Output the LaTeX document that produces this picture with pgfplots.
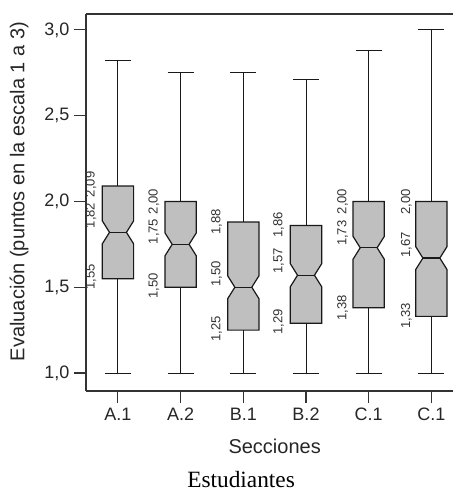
\documentclass[border=0pt]{standalone}
\usepackage{fontspec}
\setmainfont{Liberation Sans}
\newfontfamily\serifcap{Liberation Serif}
\usepackage{pgfplots}
\pgfplotsset{compat=1.18}
\usepgfplotslibrary{statistics}

% notched box: notch half-height in data units, inset as fraction of box width
\pgfplotsset{
    notched box/.style={
        boxplot/draw direction=y,
        boxplot/draw/box/.code={%
            \pgfmathsetmacro\nlo{\pgfplotsboxplotvalue{median}-0.067}%
            \pgfmathsetmacro\nhi{\pgfplotsboxplotvalue{median}+0.067}%
            \draw[/pgfplots/boxplot/every box/.try]
                (boxplot box cs:\pgfplotsboxplotvalue{lower quartile},0) --
                (boxplot box cs:\nlo,0) --
                (boxplot box cs:\pgfplotsboxplotvalue{median},0.23) --
                (boxplot box cs:\nhi,0) --
                (boxplot box cs:\pgfplotsboxplotvalue{upper quartile},0) --
                (boxplot box cs:\pgfplotsboxplotvalue{upper quartile},1) --
                (boxplot box cs:\nhi,1) --
                (boxplot box cs:\pgfplotsboxplotvalue{median},0.77) --
                (boxplot box cs:\nlo,1) --
                (boxplot box cs:\pgfplotsboxplotvalue{lower quartile},1) -- cycle;
        },
        boxplot/draw/median/.code={%
            \draw[/pgfplots/boxplot/every median/.try]
                (boxplot box cs:\pgfplotsboxplotvalue{median},0.23) --
                (boxplot box cs:\pgfplotsboxplotvalue{median},0.77);
        },
        boxplot/box extend=0.5,
        boxplot/whisker extend=0.414,
        boxplot/every box/.style={fill=gray!50, draw=black!90, line width=0.9pt},
        boxplot/every median/.style={draw=black!90, line width=0.9pt},
        boxplot/every whisker/.style={draw=black!90, line width=0.7pt},
    },
}

\begin{document}
\begin{tikzpicture}
    \begin{axis}[
            scale only axis,
            width=283pt, height=282.75pt,
            xmin=0.49, xmax=6.51,
            ymin=0.895, ymax=3.093,
            axis x line=box, axis y line=left,
            axis line style={-, line width=1pt, black!80},
            xtick pos=lower, ytick pos=left,
            tick align=outside,
            major tick length=9pt,
            tick style={line width=0.8pt, black!80},
            xtick={1,2,3,4,5,6},
            xticklabels={A.1,A.2,B.1,B.2,C.1,C.1},
            ytick={1,1.5,2,2.5,3},
            yticklabel style={/pgf/number format/.cd, fixed, fixed zerofill, precision=1, use comma, assume math mode=true},
            ticklabel style={font=\fontsize{13.5}{16}\selectfont, black!85},
            xlabel={Secciones},
            ylabel={Evaluación (puntos en la escala 1 a 3)},
            label style={font=\fontsize{15}{18}\selectfont, black!85},
            xlabel style={at={(axis description cs:0.5,-0.167)}, anchor=base},
            ylabel style={at={(axis description cs:-0.1775,0.529)}, anchor=center, rotate=0},
            clip=false,
        ]
        % min, Q1, median, Q3, max per section
        \addplot[notched box, boxplot prepared={draw position=1, lower whisker=1.00, lower quartile=1.55, median=1.82, upper quartile=2.09, upper whisker=2.82}] coordinates {};
        \addplot[notched box, boxplot prepared={draw position=2, lower whisker=1.00, lower quartile=1.50, median=1.75, upper quartile=2.00, upper whisker=2.75}] coordinates {};
        \addplot[notched box, boxplot prepared={draw position=3, lower whisker=1.00, lower quartile=1.25, median=1.50, upper quartile=1.88, upper whisker=2.75}] coordinates {};
        \addplot[notched box, boxplot prepared={draw position=4, lower whisker=1.00, lower quartile=1.29, median=1.57, upper quartile=1.86, upper whisker=2.71}] coordinates {};
        \addplot[notched box, boxplot prepared={draw position=5, lower whisker=1.00, lower quartile=1.38, median=1.73, upper quartile=2.00, upper whisker=2.88}] coordinates {};
        \addplot[notched box, boxplot prepared={draw position=6, lower whisker=1.00, lower quartile=1.33, median=1.67, upper quartile=2.00, upper whisker=3.00}] coordinates {};

        % value labels beside each box
        \addplot[only marks, mark=none, nodes near coords, point meta=explicit symbolic,
            nodes near coords style={rotate=90, anchor=center, inner sep=0pt,
                font=\fontsize{9.8}{12}\selectfont, black!80}]
        table[meta=label] {
            x     y     label
            0.57  2.100 2,09
            0.57  1.918 1,82
            0.57  1.560 1,55
            1.573 2.000 2,00
            1.573 1.825 1,75
            1.573 1.507 1,50
            2.576 1.880 1,88
            2.576 1.577 1,50
            2.576 1.257 1,25
            3.564 1.863 1,86
            3.564 1.653 1,57
            3.564 1.297 1,29
            4.583 2.000 2,00
            4.583 1.815 1,73
            4.583 1.379 1,38
            5.600 1.997 2,00
            5.600 1.746 1,67
            5.600 1.332 1,33
        };

        \node[anchor=base, font=\serifcap\fontsize{17.5}{20}\selectfont]
            at (axis description cs:0.411,-0.257) {Estudiantes};
    \end{axis}
    \pgfresetboundingbox
    \path[use as bounding box]
        ([xshift=-64.5pt,yshift=-75pt]current axis.south west)
        rectangle ([xshift=-7.8pt,yshift=10.5pt]current axis.north east);
\end{tikzpicture}
\end{document}
